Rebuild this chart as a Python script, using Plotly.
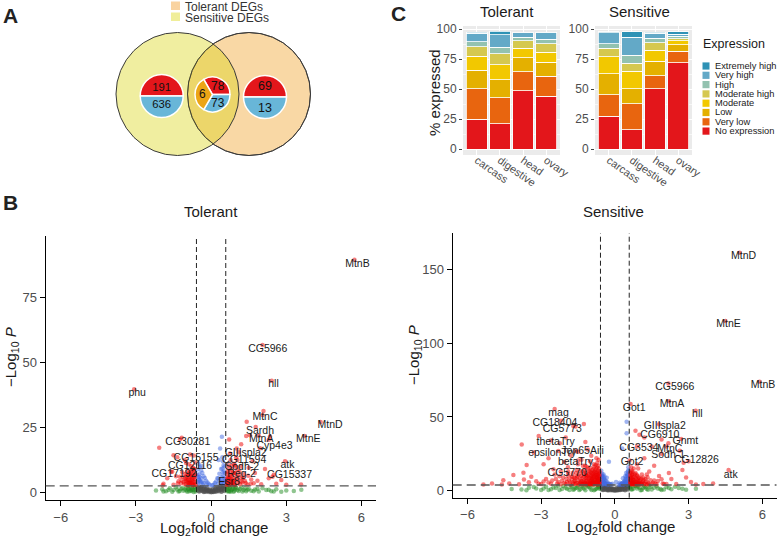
import math
import plotly.graph_objects as go

W, H = 777, 538
FONT = "Liberation Sans, Arial, Helvetica, sans-serif"

# ---------------- Panel A data (Venn + pies) ----------------
venn_sets = ["Tolerant DEGs", "Sensitive DEGs"]
sensitive_only = [191, 636]      # up (red), down (blue)
shared_degs = [78, 73, 6]        # up, down, opposite
tolerant_only = [69, 13]         # up, down

# ---------------- Panel C data (stacked bars) ----------------
tissues = ["carcass", "digestive", "head", "ovary"]
expr_levels = ["No expression", "Very low", "Low", "Moderate",
               "Moderate high", "High", "Very high", "Extremely high"]
expr_colors = ["#e3161b", "#e8650f", "#e4b000", "#f2c800",
               "#d5c84f", "#93c2b0", "#63a9c7", "#2e92b5"]
tolerant_pct = [
    [24.8, 21.3, 48.9, 44.0],
    [25.7, 21.7, 15.5, 16.8],
    [15.3, 15.0, 11.8, 11.7],
    [11.7, 12.5, 8.0, 8.3],
    [7.9, 9.0, 6.3, 7.0],
    [4.3, 5.5, 3.0, 3.7],
    [7.1, 10.5, 3.5, 5.5],
    [0.5, 2.7, 0.5, 0.5],
]
sensitive_pct = [
    [27.5, 16.2, 50.2, 72.0],
    [18.0, 21.8, 11.0, 9.5],
    [17.5, 12.2, 12.1, 5.5],
    [14.0, 14.8, 9.0, 3.5],
    [7.0, 6.5, 6.5, 1.5],
    [4.0, 7.0, 3.7, 2.0],
    [9.0, 15.0, 4.3, 2.0],
    [1.0, 4.5, 0.5, 2.0],
]

# ---------------- Panel B data (volcano) ----------------
fc_cut = 0.585
p_cut_tol = 2.5
p_cut_sen = 3.9

tol_gray = [(-0.55, 2.1), (-0.52, 1.5), (-0.48, 2.3), (-0.45, 0.9), (-0.41, 1.8), (-0.38, 2.2), (-0.35, 0.6),
            (-0.31, 1.4), (-0.28, 2.0), (-0.25, 0.3), (-0.22, 1.1), (-0.18, 1.7), (-0.15, 0.5), (-0.12, 0.9),
            (-0.08, 0.2), (-0.05, 1.2), (-0.02, 0.4), (0.02, 0.7), (0.05, 0.3), (0.08, 1.5), (0.12, 0.8),
            (0.15, 1.9), (0.18, 0.5), (0.22, 1.2), (0.25, 2.2), (0.28, 0.6), (0.31, 1.6), (0.35, 2.3),
            (0.38, 1.0), (0.41, 0.4), (0.45, 1.9), (0.48, 2.4), (0.52, 1.3), (0.55, 2.2), (-0.5, 0.5),
            (-0.3, 0.4), (-0.1, 0.6), (0.1, 0.2), (0.3, 0.9), (0.5, 0.8), (-0.42, 1.2), (-0.2, 1.1),
            (0.0, 0.1), (0.2, 0.5), (0.42, 0.3),
            (-0.54, 0.8), (-0.5, 1.9), (-0.46, 0.4), (-0.43, 1.6), (-0.39, 0.7), (-0.36, 1.9), (-0.33, 1.0),
            (-0.29, 0.2), (-0.26, 1.5), (-0.23, 0.7), (-0.19, 0.3), (-0.16, 1.3), (-0.13, 0.6), (-0.09, 0.9),
            (-0.06, 0.5), (-0.03, 0.8), (0.03, 0.2), (0.06, 1.0), (0.09, 0.5), (0.13, 0.3), (0.16, 1.0),
            (0.19, 1.5), (0.23, 0.4), (0.26, 1.1), (0.29, 1.8), (0.33, 0.5), (0.36, 1.4), (0.39, 2.0),
            (0.43, 0.9), (0.46, 1.5), (0.5, 2.2), (0.54, 0.6)]
tol_green = [(-2.2, 0.8), (-1.95, 1.2), (-1.8, 0.5), (-1.65, 1.6), (-1.5, 0.9), (-1.4, 2.0), (-1.3, 0.4),
             (-1.2, 1.3), (-1.1, 0.7), (-1.0, 1.9), (-0.95, 0.3), (-0.9, 1.1), (-0.85, 2.2), (-0.8, 0.6),
             (-0.75, 1.5), (-0.7, 0.2), (-0.65, 1.8), (-0.62, 0.9), (0.62, 1.0), (0.65, 2.1), (0.7, 0.4),
             (0.75, 1.4), (0.8, 0.8), (0.85, 2.3), (0.9, 0.3), (0.95, 1.2), (1.0, 1.7), (1.1, 0.6),
             (1.2, 1.9), (1.3, 0.9), (1.4, 0.5), (1.5, 1.4), (1.6, 0.7), (1.75, 1.1), (1.9, 0.4),
             (2.05, 1.6), (2.2, 0.9), (2.4, 0.5), (2.6, 1.2), (2.8, 0.3), (3.0, 0.8), (3.3, 0.6),
             (3.6, 1.0), (-1.05, 1.1), (-0.78, 0.9), (0.72, 0.6), (0.88, 1.5), (1.15, 1.3),
             (-1.9, 0.4), (-1.7, 0.9), (-1.55, 0.3), (-1.35, 1.1), (-1.25, 0.6), (-1.15, 1.7), (-0.98, 0.8),
             (-0.92, 1.5), (-0.87, 0.5), (-0.82, 1.3), (-0.72, 0.9), (-0.67, 2.1), (-0.63, 0.4), (0.64, 0.5),
             (0.68, 1.5), (0.73, 2.0), (0.78, 0.3), (0.83, 1.1), (0.93, 0.7), (0.98, 2.1), (1.05, 0.9),
             (1.25, 0.4), (1.35, 1.6), (1.45, 1.0), (1.7, 0.5), (1.85, 1.4), (2.3, 1.0), (2.5, 0.4)]
tol_blue = [(0.43, 21.4), (0.36, 16.9), (0.3, 12.5), (0.45, 13.5), (0.5, 10.5), (0.52, 8.2), (0.48, 6.5),
            (0.4, 9.0), (0.55, 5.0), (0.33, 7.2), (0.25, 5.5), (0.2, 4.2), (0.15, 3.6), (0.1, 3.0),
            (0.05, 2.8), (-0.05, 2.9), (-0.1, 3.3), (-0.15, 3.8), (-0.2, 4.5), (-0.25, 5.6), (-0.3, 6.2),
            (-0.35, 7.5), (-0.4, 8.5), (-0.45, 9.8), (-0.5, 11.0), (-0.53, 6.0), (-0.48, 4.8), (-0.42, 3.9),
            (-0.38, 10.2), (-0.55, 8.8), (0.5, 3.5), (0.42, 4.1), (0.38, 5.2), (-0.33, 3.1), (-0.46, 5.9),
            (0.28, 3.3), (-0.18, 2.9), (0.47, 12.0), (-0.51, 3.4), (0.53, 4.4),
            (-0.53, 4.0), (-0.5, 5.3), (-0.47, 7.0), (-0.44, 4.4), (-0.4, 5.5), (-0.36, 4.0), (-0.3, 3.6),
            (-0.55, 6.8), (0.55, 7.5), (0.52, 5.6), (0.49, 4.0), (0.46, 7.8), (0.43, 5.8), (0.39, 3.6),
            (0.34, 4.6), (0.29, 5.5), (0.54, 10.0), (0.45, 9.2)]
tol_red = [(-0.62, 3.0), (-0.65, 5.2), (-0.68, 7.5), (-0.7, 4.1), (-0.72, 9.5), (-0.75, 3.4), (-0.78, 6.3),
           (-0.8, 8.2), (-0.82, 4.8), (-0.85, 3.2), (-0.88, 5.9), (-0.9, 7.1), (-0.93, 3.8), (-0.95, 4.5),
           (-0.98, 6.6), (-1.0, 3.1), (-1.05, 5.4), (-1.1, 4.0), (-1.15, 7.8), (-1.2, 3.5), (-0.64, 11.5),
           (-0.69, 8.8), (-0.74, 2.9), (-0.79, 10.2), (-0.84, 6.9), (-0.89, 3.6), (-0.94, 8.4), (-0.99, 5.1),
           (-1.3, 4.3), (-1.4, 6.2), (-1.5, 3.0), (-1.6, 8.0), (-1.75, 5.5), (-1.9, 3.3), (-2.07, 17.2),
           (-1.17, 21.0), (-1.05, 12.5), (-0.9, 10.8), (-1.35, 13.5), (-0.7, 14.2), (-1.5, 14.3), (-1.93, 2.8),
           (-0.66, 6.0), (-0.76, 4.6), (-0.86, 3.7),
           (-0.63, 4.0), (-0.63, 6.8), (-0.66, 3.4), (-0.67, 9.0), (-0.7, 5.6), (-0.71, 2.8), (-0.73, 7.0),
           (-0.76, 5.1), (-0.77, 8.6), (-0.8, 3.5), (-0.81, 6.0), (-0.83, 4.2), (-0.87, 7.6), (-0.91, 4.9),
           (-0.92, 2.8), (-0.96, 5.9), (-1.01, 4.4), (-1.03, 7.1), (-1.07, 3.3), (-1.12, 5.9), (-1.18, 4.6),
           (-1.25, 6.0), (-1.33, 3.4),
           (0.62, 3.0), (0.64, 5.5), (0.66, 8.0), (0.68, 3.6), (0.7, 10.5), (0.72, 4.5), (0.72, 20.4),
           (0.74, 6.8), (0.76, 3.2), (0.78, 12.5), (0.8, 5.0), (0.82, 8.8), (0.84, 3.8), (0.86, 6.2),
           (0.88, 4.2), (0.9, 11.0), (0.92, 3.1), (0.95, 7.5), (0.98, 5.2), (1.0, 13.5), (1.02, 16.9),
           (1.05, 8.5), (1.08, 4.8), (1.12, 6.5), (1.15, 3.2), (1.18, 10.0), (1.22, 5.5), (1.25, 3.8),
           (1.3, 7.0), (1.35, 4.4), (1.4, 21.7), (1.42, 27.2), (1.45, 3.1), (1.5, 9.5), (1.55, 22.0),
           (1.6, 5.0), (1.65, 12.0), (1.7, 3.5), (1.75, 7.5), (1.85, 4.5), (1.95, 17.0), (2.0, 3.2),
           (2.05, 29.8), (2.15, 9.0), (2.3, 5.5), (2.35, 21.5), (2.45, 6.0), (2.6, 3.3), (2.8, 4.8),
           (3.0, 3.0), (3.59, 3.1), (1.2, 18.5), (0.75, 15.0), (1.0, 9.8),
           (0.63, 4.3), (0.63, 7.2), (0.65, 3.3), (0.67, 5.8), (0.69, 9.2), (0.71, 2.9), (0.73, 5.4),
           (0.75, 8.0), (0.77, 4.0), (0.79, 6.4), (0.81, 3.1), (0.83, 10.2), (0.85, 5.0), (0.87, 3.5),
           (0.89, 7.6), (0.93, 4.6), (0.97, 3.0), (1.03, 6.2), (1.07, 3.7), (1.13, 8.0), (1.2, 4.2),
           (1.28, 5.6), (1.38, 3.6), (1.48, 6.4), (1.58, 3.3)]
tol_genes = ["MtnB", "CG5966", "hll", "phu", "MtnC", "MtnD", "MtnE", "Sardh", "MtnA", "Cyp4e3",
             "CG30281", "GIIIspla2", "CG11594", "CG15155", "Sodh-2", "CG12116", "Reg-2", "CG17192",
             "CG15337", "atk", "Esr8"]
tol_gene_x = [5.72, 2.05, 2.42, -3.07, 2.09, 4.37, 3.73, 1.78, 1.9, 2.3, -1.24, 1.1, 1.05, -0.84, 0.95,
              -1.0, 0.9, -1.55, 2.5, 2.95, 0.7]
tol_gene_y = [89.5, 56.7, 42.9, 39.7, 31.3, 27.1, 21.7, 25.2, 21.8, 20.3, 20.5, 15.5, 12.5, 14.6, 10.5,
              11.3, 7.5, 8.0, 6.8, 12.0, 5.5]
tol_lab_x = [5.84, 2.26, 2.49, -2.95, 2.15, 4.75, 3.88, 1.95, 2.0, 2.53, -0.93, 1.38, 1.32, -0.6, 1.24,
             -0.84, 1.22, -1.48, 3.13, 3.05, 0.72]
tol_lab_y = [87.7, 55.1, 41.5, 38.0, 28.8, 25.6, 20.4, 23.4, 20.4, 17.9, 19.3, 15.2, 12.3, 13.0, 9.7,
             10.1, 7.1, 6.9, 6.5, 10.5, 4.0]

sen_gray = [(-0.55, 2.8), (-0.52, 1.5), (-0.48, 3.2), (-0.45, 0.9), (-0.41, 2.4), (-0.38, 3.5), (-0.35, 0.6),
            (-0.31, 1.9), (-0.28, 2.9), (-0.25, 0.3), (-0.22, 1.4), (-0.18, 2.2), (-0.15, 0.5), (-0.12, 1.2),
            (-0.08, 0.2), (-0.05, 1.6), (-0.02, 0.4), (0.02, 0.9), (0.05, 0.3), (0.08, 2.0), (0.12, 1.1),
            (0.15, 2.6), (0.18, 0.7), (0.22, 1.7), (0.25, 3.0), (0.28, 0.8), (0.31, 2.3), (0.35, 3.4),
            (0.38, 1.3), (0.41, 0.5), (0.45, 2.7), (0.48, 3.6), (0.52, 1.8), (0.55, 3.1), (-0.5, 0.6),
            (-0.3, 0.5), (-0.1, 0.8), (0.1, 0.3), (0.3, 1.2), (0.5, 1.0), (-0.42, 1.6), (-0.2, 1.5),
            (0.0, 0.1), (0.2, 0.6), (0.42, 0.4),
            (-0.54, 1.1), (-0.5, 2.6), (-0.46, 0.6), (-0.43, 2.2), (-0.39, 1.0), (-0.36, 2.7), (-0.33, 1.4),
            (-0.29, 0.3), (-0.26, 2.1), (-0.23, 1.0), (-0.19, 0.4), (-0.16, 1.8), (-0.13, 0.8), (-0.09, 1.3),
            (-0.06, 0.7), (-0.03, 1.1), (0.03, 0.3), (0.06, 1.4), (0.09, 0.7), (0.13, 0.4), (0.16, 1.4),
            (0.19, 2.1), (0.23, 0.6), (0.26, 1.5), (0.29, 2.5), (0.33, 0.7), (0.36, 2.0), (0.39, 2.8),
            (0.43, 1.3), (0.46, 2.1), (0.5, 3.2), (0.54, 0.8)]
sen_green = [(-4.2, 1.2), (-3.8, 0.8), (-3.5, 2.0), (-3.2, 1.5), (-3.0, 0.6), (-2.8, 2.8), (-2.6, 1.1),
             (-2.4, 1.9), (-2.25, 0.5), (-2.1, 3.2), (-1.95, 1.4), (-1.8, 2.5), (-1.7, 0.7), (-1.6, 1.8),
             (-1.5, 3.0), (-1.4, 1.0), (-1.3, 2.2), (-1.2, 0.4), (-1.1, 2.9), (-1.0, 1.6), (-0.9, 3.4),
             (-0.8, 0.9), (-0.7, 2.0), (-0.62, 1.3), (-1.45, 0.6), (-1.15, 3.5), (-0.85, 0.3), (-0.68, 3.0),
             (0.62, 2.4), (0.7, 0.8), (0.8, 3.3), (0.9, 1.5), (1.0, 2.1), (1.1, 0.6), (1.2, 2.9), (1.3, 1.2),
             (1.4, 3.6), (1.5, 0.9), (1.6, 2.0), (1.75, 1.6), (1.9, 0.5), (2.1, 2.6), (2.3, 1.1), (2.6, 1.8),
             (2.9, 0.7), (3.3, 1.3), (0.66, 1.0), (0.85, 3.1), (1.05, 0.4), (1.25, 2.3),
             (-3.6, 0.4), (-3.3, 2.6), (-2.9, 1.6), (-2.7, 0.5), (-2.5, 2.2), (-2.3, 3.4), (-2.15, 1.2),
             (-2.0, 2.0), (-1.85, 0.6), (-1.75, 3.1), (-1.65, 1.0), (-1.55, 2.2), (-1.35, 3.3), (-1.25, 1.5),
             (-1.05, 2.5), (-0.95, 0.6), (-0.75, 1.4), (-0.65, 2.6), (0.64, 3.3), (0.75, 1.4), (0.95, 2.8),
             (1.15, 1.9), (1.35, 0.7), (1.45, 2.6), (1.7, 3.0), (1.85, 1.2), (2.0, 0.8), (2.2, 1.9),
             (2.45, 2.7), (2.75, 1.4)]
sen_blue = [(0.48, 46.7), (0.48, 38.9), (0.3, 28.7), (-0.24, 19.6), (0.55, 16.0), (0.53, 13.0), (0.5, 11.0),
            (0.47, 9.5), (0.44, 8.0), (0.4, 7.0), (0.36, 6.0), (0.32, 5.2), (0.27, 4.6), (0.22, 4.2),
            (0.15, 4.1), (-0.15, 4.2), (-0.2, 4.5), (-0.26, 5.0), (-0.31, 5.8), (-0.36, 6.6), (-0.41, 7.5),
            (-0.45, 8.6), (-0.49, 10.0), (-0.52, 11.5), (-0.55, 13.5), (0.54, 8.5), (0.5, 6.5), (0.45, 5.5),
            (0.41, 4.8), (0.37, 4.4), (-0.38, 4.4), (-0.43, 5.2), (-0.47, 6.0), (-0.51, 7.2), (-0.54, 9.5),
            (0.52, 5.0), (-0.53, 5.5), (0.2, 5.5), (-0.1, 4.8), (0.05, 6.0), (0.33, 8.5), (-0.33, 8.8),
            (0.46, 12.0), (-0.46, 11.0), (-0.5, 4.3), (0.51, 4.2),
            (-0.53, 8.0), (-0.5, 6.0), (-0.48, 4.6), (-0.44, 6.8), (-0.4, 5.3), (-0.35, 4.6), (-0.3, 4.3),
            (-0.55, 10.5), (-0.52, 9.3), (-0.47, 8.0), (0.55, 11.0), (0.53, 6.0), (0.49, 7.8), (0.46, 5.0),
            (0.43, 6.3), (0.39, 5.6), (0.34, 4.3), (0.29, 5.0), (0.55, 13.8), (0.52, 10.0), (0.25, 4.3),
            (-0.25, 4.4), (-0.42, 9.5), (0.42, 9.8)]
sen_red = [(-0.62, 4.5), (-0.62, 7.0), (-0.62, 10.0), (-0.62, 13.0), (-0.65, 5.5), (-0.65, 8.5), (-0.65, 15.0),
           (-0.68, 4.3), (-0.68, 11.0), (-0.68, 17.0), (-0.71, 6.5), (-0.71, 19.0), (-0.74, 4.6), (-0.74, 9.0),
           (-0.74, 12.5), (-0.77, 5.5), (-0.77, 14.5), (-0.8, 4.4), (-0.8, 7.5), (-0.8, 10.5), (-0.83, 5.0),
           (-0.83, 12.5), (-0.83, 16.5), (-0.86, 4.3), (-0.86, 6.5), (-0.86, 9.0), (-0.89, 5.2), (-0.89, 11.0),
           (-0.92, 4.5), (-0.92, 8.0), (-0.92, 14.0), (-0.95, 5.0), (-0.95, 10.0), (-0.98, 4.2), (-0.98, 6.5),
           (-0.98, 12.5), (-1.01, 5.5), (-1.01, 8.5), (-1.01, 20.0), (-1.05, 4.4), (-1.05, 11.0), (-1.09, 6.0),
           (-1.09, 15.0), (-1.13, 4.6), (-1.13, 9.0), (-1.17, 4.3), (-1.17, 7.0), (-1.17, 12.0), (-1.21, 5.2),
           (-1.21, 17.0), (-1.26, 4.5), (-1.26, 9.5), (-1.31, 6.5), (-1.31, 13.0), (-1.36, 4.8), (-1.36, 21.0),
           (-1.41, 8.0), (-1.46, 4.3), (-1.46, 11.0), (-1.51, 5.5), (-1.56, 14.0), (-1.61, 4.5), (-1.61, 8.5),
           (-1.71, 5.5), (-1.71, 12.0), (-1.81, 4.3), (-1.86, 7.0), (-1.91, 16.0), (-2.0, 4.6), (-2.1, 9.0),
           (-2.2, 4.4), (-2.3, 6.0), (-2.45, 11.0), (-2.6, 4.8), (-2.8, 8.0), (-3.0, 4.5), (-3.2, 6.5),
           (-3.59, 17.4), (-3.72, 12.2), (-4.13, 10.6), (-4.54, 7.2), (-5.0, 5.0), (-5.35, 4.3), (-3.9, 4.4),
           (-4.3, 5.0), (-3.4, 9.5), (-2.5, 14.5), (-2.05, 19.5), (-1.26, 45.2), (-1.69, 43.8), (-3.1, 37.1),
           (-3.79, 31.4), (-2.24, 32.1), (-1.49, 26.4), (-0.96, 23.7), (-1.8, 24.0), (-2.7, 22.0), (-3.3, 26.0),
           (-1.2, 33.0), (-2.0, 36.0), (-2.9, 18.0), (-1.1, 28.0), (-0.75, 22.0), (-4.6, 4.3), (-0.7, 8.0),
           (-0.75, 10.5), (-0.9, 6.5), (-1.0, 13.0), (-1.15, 10.0), (-1.25, 7.0), (-1.4, 5.5), (-1.55, 9.0),
           (-1.65, 6.5), (-1.75, 9.5), (-1.95, 6.0), (-1.3, 17.0), (-0.85, 18.0), (-1.5, 18.0), (-0.66, 21.0),
           (-2.2, 13.0), (-2.4, 8.0), (-1.9, 11.5),
           (-0.63, 5.8), (-0.63, 8.2), (-0.63, 11.5), (-0.66, 4.8), (-0.66, 6.8), (-0.66, 9.6), (-0.66, 12.2),
           (-0.69, 5.6), (-0.69, 7.3), (-0.69, 13.8), (-0.72, 4.4), (-0.72, 8.9), (-0.72, 10.7), (-0.72, 15.8),
           (-0.75, 6.1), (-0.75, 7.4), (-0.78, 9.1), (-0.78, 11.8), (-0.78, 17.5), (-0.81, 5.9), (-0.81, 13.6),
           (-0.84, 7.6), (-0.84, 9.9), (-0.87, 12.1), (-0.87, 14.8), (-0.9, 4.6), (-0.9, 9.4), (-0.93, 5.8),
           (-0.93, 11.7), (-0.96, 7.3), (-0.96, 8.7), (-0.99, 10.3), (-0.99, 15.6), (-1.02, 4.7), (-1.02, 6.9),
           (-1.06, 8.1), (-1.06, 13.2), (-1.1, 5.1), (-1.1, 10.4), (-1.14, 6.7), (-1.14, 16.2), (-1.18, 8.6),
           (-1.18, 10.8), (-1.22, 4.5), (-1.22, 13.9), (-1.27, 5.8), (-1.27, 11.6), (-1.32, 4.4), (-1.32, 8.8),
           (-1.37, 6.4), (-1.37, 10.1), (-1.42, 5.0), (-1.42, 13.4), (-1.47, 7.2), (-1.52, 9.8), (-1.57, 5.2),
           (-1.57, 11.8), (-1.63, 6.9), (-1.68, 4.6), (-1.68, 9.4), (-1.76, 7.8), (-1.83, 5.6), (-1.88, 9.8),
           (-1.97, 8.2), (-2.05, 5.4), (-2.15, 6.8), (-2.25, 9.8), (-2.35, 4.9), (-2.55, 7.0), (-2.7, 5.6),
           (-2.9, 6.3), (-3.1, 4.8), (-3.5, 5.8), (-3.7, 7.6),
           (0.62, 4.5), (0.62, 7.0), (0.62, 10.0), (0.65, 5.5), (0.65, 13.0), (0.68, 4.3), (0.68, 8.5),
           (0.71, 6.0), (0.71, 11.0), (0.74, 4.6), (0.74, 7.5), (0.77, 5.2), (0.77, 15.0), (0.8, 4.3),
           (0.8, 9.5), (0.84, 6.0), (0.84, 12.0), (0.88, 4.5), (0.88, 7.8), (0.92, 5.0), (0.92, 10.0),
           (0.96, 4.3), (0.96, 6.5), (1.0, 4.8), (1.0, 8.5), (1.05, 5.5), (1.1, 4.4), (1.1, 11.0),
           (1.15, 6.5), (1.2, 4.6), (1.25, 8.0), (1.3, 4.3), (1.35, 5.5), (1.4, 13.0), (1.5, 4.6),
           (1.6, 7.0), (1.7, 4.4), (1.8, 10.0), (1.95, 5.0), (2.1, 4.5), (2.3, 8.0), (2.5, 4.6),
           (2.75, 14.0), (2.8, 19.0), (2.64, 27.1), (2.18, 32.1), (1.9, 34.8), (0.84, 40.7), (1.0, 38.0),
           (1.5, 30.0), (1.2, 22.0), (0.9, 18.0), (1.6, 17.0), (2.2, 12.0), (3.1, 6.0), (3.6, 4.5),
           (4.0, 5.0), (2.9, 9.0), (3.3, 4.3), (0.7, 13.5), (0.95, 15.0), (1.15, 9.0), (0.66, 16.0),
           (1.3, 11.0),
           (0.63, 5.8), (0.63, 8.4), (0.63, 11.8), (0.66, 4.6), (0.66, 7.2), (0.66, 9.3), (0.69, 5.4),
           (0.69, 10.6), (0.72, 4.5), (0.72, 7.8), (0.72, 12.4), (0.75, 6.2), (0.75, 9.4), (0.78, 4.7),
           (0.78, 7.1), (0.81, 5.6), (0.81, 11.2), (0.85, 4.4), (0.85, 8.7), (0.89, 6.1), (0.89, 10.8),
           (0.93, 4.7), (0.93, 7.5), (0.97, 5.4), (0.97, 9.2), (1.02, 6.9), (1.07, 4.5), (1.07, 8.2),
           (1.12, 5.6), (1.17, 7.4), (1.22, 4.9), (1.28, 6.3), (1.33, 9.2), (1.38, 4.6), (1.45, 7.2),
           (1.55, 5.4), (1.65, 4.8), (1.75, 6.6), (1.9, 7.8), (2.0, 4.6)]
sen_genes = ["MtnD", "MtnE", "MtnB", "CG5966", "MtnA", "Got1", "hll", "mag", "CG18404", "CG5773",
             "GIIIspla2", "CG6910", "Gnmt", "thetaTry", "CG3534", "MtnC", "epsilonTry", "Jon65Aiii",
             "Sodh-1", "CG12826", "betaTry", "Got2", "CG5770", "atk"]
sen_gene_x = [5.08, 4.5, 5.89, 2.18, 2.2, 0.64, 3.29, -2.45, -2.2, -1.6, 1.8, 1.2, 2.7, -2.6, 0.9, 2.1,
              -2.3, -1.6, 1.9, 3.0, -1.5, 0.6, -1.9, 4.63]
sen_gene_y = [161.3, 115.0, 73.9, 72.7, 60.7, 58.7, 54.2, 55.3, 47.5, 43.5, 45.0, 36.0, 35.0, 34.0, 30.0,
              30.0, 27.0, 27.0, 25.0, 20.0, 20.5, 20.5, 13.0, 14.0]
sen_lab_x = [5.24, 4.63, 6.03, 2.44, 2.33, 0.79, 3.36, -2.29, -2.44, -2.14, 2.03, 1.83, 2.87, -2.41, 0.98,
             2.24, -2.55, -1.31, 2.17, 3.32, -1.6, 0.7, -1.94, 4.72]
sen_lab_y = [158.6, 112.5, 71.1, 69.8, 58.3, 55.8, 51.7, 52.4, 45.6, 41.8, 43.4, 37.3, 33.2, 32.5, 28.6,
             28.0, 25.3, 26.4, 24.2, 20.3, 19.0, 19.0, 11.8, 10.6]

# ---------------- styling constants ----------------
RED, BLUE, ORANGE = "#e3161b", "#68b6d8", "#eca516"
TOL_FILL, SEN_FILL = "#f9d8a5", "rgba(217,212,18,0.40)"
PT = dict(gray="#4d4d4d", green="#228b22", blue="#4169e1", red="#ee0000")
TICK = "#4d4d4d"


def fx(x):
    return x / W


def fy(y):
    return 1 - y / H


def dom(cx, cy, r):
    return dict(x=[fx(cx - r), fx(cx + r)], y=[fy(cy + r), fy(cy - r)])


fig = go.Figure()
anns = []


def ann(text, x, y, size, color="#1a1a1a", xanchor="center", angle=0):
    anns.append(dict(text=text, x=fx(x), y=fy(y), xref="paper", yref="paper", showarrow=False,
                     font=dict(family=FONT, size=size, color=color), xanchor=xanchor, yanchor="middle",
                     textangle=angle))


# ---------- Panel A: pies ----------
pie_common = dict(sort=False, direction="clockwise", hoverinfo="skip", showlegend=False,
                  textposition="inside", insidetextorientation="horizontal",
                  textfont=dict(family=FONT, size=12.5, color="#111"))
fig.add_trace(go.Pie(values=[1, 1], text=[str(v) for v in sensitive_only], textinfo="text", rotation=-90,
                     marker=dict(colors=[RED, BLUE], line=dict(color="white", width=1.5)),
                     domain=dom(161.7, 96, 21.5), **pie_common))
fig.add_trace(go.Pie(values=[1, 1], text=[str(v) for v in tolerant_only], textinfo="text", rotation=-90,
                     marker=dict(colors=[RED, BLUE], line=dict(color="white", width=1.5)),
                     domain=dom(265, 97, 21.5), **pie_common))
# shared pie: equal thirds, numbers placed at slice mid-angles
mid_c, mid_r, mid_rot = (212.5, 94.5), 17.5, -30
fig.add_trace(go.Pie(values=[1, 1, 1], textinfo="none", rotation=mid_rot,
                     marker=dict(colors=[RED, BLUE, ORANGE], line=dict(color="white", width=1.5)),
                     domain=dom(mid_c[0], mid_c[1], mid_r), **pie_common))
for k, v in enumerate(shared_degs):
    a = math.radians(mid_rot + (k + 0.5) * 360 / len(shared_degs))
    ann(str(v), mid_c[0] + 0.58 * mid_r * math.sin(a), mid_c[1] - 0.58 * mid_r * math.cos(a), 12, "#111")

# ---------- Panel C: stacked bars ----------
for i, lvl in enumerate(expr_levels):
    fig.add_trace(go.Bar(x=tissues, y=tolerant_pct[i], name=lvl, marker_color=expr_colors[i],
                         marker_line=dict(color="white", width=0.8), xaxis="x", yaxis="y",
                         showlegend=False, hoverinfo="skip"))
    fig.add_trace(go.Bar(x=tissues, y=sensitive_pct[i], name=lvl, marker_color=expr_colors[i],
                         marker_line=dict(color="white", width=0.8), xaxis="x2", yaxis="y2",
                         showlegend=False, hoverinfo="skip"))


# ---------- Panel B: volcano plots ----------
def add_points(pts, color, xa, ya):
    fig.add_trace(go.Scatter(x=[p[0] for p in pts], y=[p[1] for p in pts], mode="markers",
                             marker=dict(color=color, size=4.5, opacity=0.5, line=dict(width=0)),
                             xaxis=xa, yaxis=ya, showlegend=False, hoverinfo="skip"))


for pts, c in [(tol_gray, PT["gray"]), (tol_green, PT["green"]), (tol_blue, PT["blue"]), (tol_red, PT["red"])]:
    add_points(pts, c, "x3", "y3")
fig.add_trace(go.Scatter(x=tol_gene_x, y=tol_gene_y, mode="markers",
                         marker=dict(color=PT["red"], size=4.5, opacity=0.5), xaxis="x3", yaxis="y3",
                         showlegend=False, hoverinfo="skip"))
fig.add_trace(go.Scatter(x=tol_lab_x, y=tol_lab_y, mode="text", text=tol_genes,
                         textfont=dict(family=FONT, size=10.5, color="#1a1a1a"), xaxis="x3", yaxis="y3",
                         showlegend=False, hoverinfo="skip", cliponaxis=False))

for pts, c in [(sen_gray, PT["gray"]), (sen_green, PT["green"]), (sen_blue, PT["blue"]), (sen_red, PT["red"])]:
    add_points(pts, c, "x4", "y4")
fig.add_trace(go.Scatter(x=sen_gene_x, y=sen_gene_y, mode="markers",
                         marker=dict(color=PT["red"], size=4.5, opacity=0.5), xaxis="x4", yaxis="y4",
                         showlegend=False, hoverinfo="skip"))
fig.add_trace(go.Scatter(x=sen_lab_x, y=sen_lab_y, mode="text", text=sen_genes,
                         textfont=dict(family=FONT, size=10.5, color="#1a1a1a"), xaxis="x4", yaxis="y4",
                         showlegend=False, hoverinfo="skip", cliponaxis=False))

# ---------- shapes ----------
shapes = []


def circle(cx, cy, r, fill, line, layer="below"):
    return dict(type="circle", xref="paper", yref="paper", x0=fx(cx - r), x1=fx(cx + r),
                y0=fy(cy + r), y1=fy(cy - r), fillcolor=fill, line=dict(color=line, width=1), layer=layer)


shapes.append(circle(249, 94, 61.5, TOL_FILL, "#3a3a3a"))
shapes.append(circle(177.5, 94, 61.5, SEN_FILL, "#3a3a3a"))
shapes.append(circle(249, 94, 61.5, "rgba(0,0,0,0)", "rgba(58,58,58,0.85)"))

# Venn legend keys
shapes.append(dict(type="rect", xref="paper", yref="paper", x0=fx(171), x1=fx(180), y0=fy(10), y1=fy(1.5),
                   fillcolor="#f9d3a0", line=dict(width=0)))
shapes.append(dict(type="rect", xref="paper", yref="paper", x0=fx(171), x1=fx(180), y0=fy(21), y1=fy(12.5),
                   fillcolor="#f0ee9a", line=dict(width=0)))

# gray panel backgrounds for panel C
for xr, yr in [("x domain", "y domain"), ("x2 domain", "y2 domain")]:
    shapes.append(dict(type="rect", xref=xr, yref=yr, x0=0, x1=1, y0=0, y1=1, fillcolor="#ebebeb",
                       line=dict(width=0), layer="below"))

# Expression legend keys
for i, lvl in enumerate(reversed(expr_levels)):
    yc = 66 + i * 9.3
    shapes.append(dict(type="rect", xref="paper", yref="paper", x0=fx(702.5), x1=fx(709.5),
                       y0=fy(yc + 3.6), y1=fy(yc - 3.6), fillcolor=expr_colors[len(expr_levels) - 1 - i],
                       line=dict(width=0)))

# volcano threshold lines
for xa, ya, pc in [("x3", "y3", p_cut_tol), ("x4", "y4", p_cut_sen)]:
    for v in (-fc_cut, fc_cut):
        shapes.append(dict(type="line", xref=xa, yref=ya + " domain", x0=v, x1=v, y0=0, y1=1,
                           line=dict(color="#222", width=1, dash="5px,3px")))
    shapes.append(dict(type="line", xref=xa + " domain", yref=ya, x0=0, x1=1, y0=pc, y1=pc,
                       line=dict(color="#555", width=1.3, dash="9px,5px")))

# ---------- annotations ----------
ann("<b>A</b>", 10, 15, 21, "#222")
ann("<b>B</b>", 10, 202, 21, "#222")
ann("<b>C</b>", 398, 14, 21, "#222")
ann(venn_sets[0], 183, 6.5, 12, "#333", "left")
ann(venn_sets[1], 183, 17.5, 12, "#333", "left")
ann("Tolerant", 507, 11, 15)
ann("Sensitive", 639, 11, 15)
ann("% expressed", 434, 92, 15, angle=-90)
ann("Expression", 701, 44, 12.5, "#1a1a1a", "left")
for i, lvl in enumerate(reversed(expr_levels)):
    ann(lvl, 713, 66 + i * 9.3, 9.3, "#1a1a1a", "left")
ann("Tolerant", 211, 211, 15)
ann("Sensitive", 613, 211, 15)
ann("Log<sub>2</sub>fold change", 214, 528, 15)
ann("Log<sub>2</sub>fold change", 621, 527, 15)
ann("\u2212Log<sub>10</sub> <i>P</i>", 11, 357, 15, angle=-90)
ann("\u2212Log<sub>10</sub> <i>P</i>", 414, 355, 15, angle=-90)

# ---------- axes ----------
bar_x = dict(type="category", range=[-0.6, 3.6], tickangle=35, showgrid=True, gridcolor="white",
             gridwidth=1, ticks="", showline=False, zeroline=False, ticklabelstandoff=-4,
             tickfont=dict(family=FONT, size=11, color=TICK), automargin=False, fixedrange=True)
bar_y = dict(range=[-4.9, 102.7], tickvals=[0, 25, 50, 75, 100], showgrid=True, gridcolor="white",
             gridwidth=1, ticks="outside", ticklen=3, tickcolor="#444", showline=False, zeroline=False,
             minor=dict(dtick=12.5, showgrid=True, gridcolor="rgba(255,255,255,0.6)", gridwidth=0.6),
             tickfont=dict(family=FONT, size=12, color=TICK), automargin=False, fixedrange=True)
vol_x = dict(range=[-6.6, 6.58], tickvals=[-6, -3, 0, 3, 6], showgrid=False, zeroline=False, showline=True,
             linecolor="black", linewidth=1.3, ticks="outside", ticklen=5, tickwidth=1.2, tickcolor="black",
             tickfont=dict(family=FONT, size=13, color=TICK), automargin=False)
vol_y = dict(showgrid=False, zeroline=False, showline=True, linecolor="black", linewidth=1.3,
             ticks="outside", ticklen=5, tickwidth=1.2, tickcolor="black",
             tickfont=dict(family=FONT, size=13, color=TICK), automargin=False)

fig.update_layout(
    width=W, height=H, margin=dict(l=0, r=0, t=0, b=0),
    paper_bgcolor="white", plot_bgcolor="white",
    font=dict(family=FONT),
    barmode="stack", bargap=0.1, showlegend=False,
    xaxis=dict(domain=[fx(463), fx(560)], anchor="y", **bar_x),
    yaxis=dict(domain=[fy(155), fy(26)], anchor="x", **bar_y),
    xaxis2=dict(domain=[fx(595), fx(692)], anchor="y2", **bar_x),
    yaxis2=dict(domain=[fy(155), fy(26)], anchor="x2", **bar_y),
    xaxis3=dict(domain=[fx(45.7), fx(376)], anchor="y3", **vol_x),
    yaxis3=dict(domain=[fy(500), fy(236)], anchor="x3", range=[-2.9, 98.6], tickvals=[0, 25, 50, 75], **vol_y),
    xaxis4=dict(domain=[fx(452.7), fx(776.5)], anchor="y4", **vol_x),
    yaxis4=dict(domain=[fy(497.7), fy(233.3)], anchor="x4", range=[-4.7, 174.4], tickvals=[0, 50, 100, 150], **vol_y),
    shapes=shapes, annotations=anns,
)

fig.write_html("out.html", config={"displayModeBar": False},
               post_script="document.body.style.margin='0px';document.body.style.overflow='hidden';")
